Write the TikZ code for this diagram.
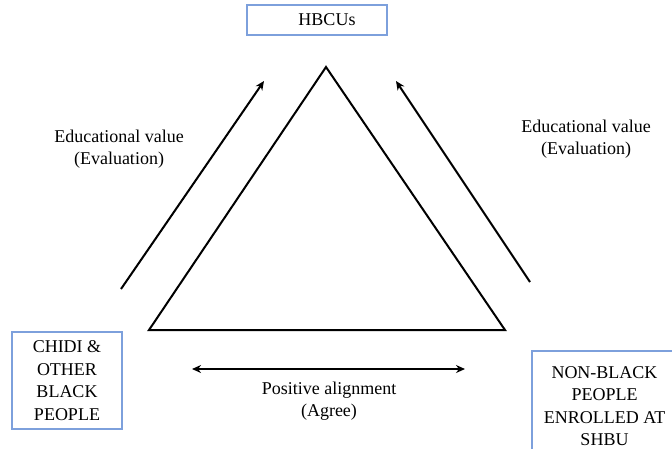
\documentclass[tikz,border=0pt]{standalone}
\usepackage{fontspec}
\setmainfont{Liberation Serif}
\usetikzlibrary{arrows.meta}
\definecolor{boxblue}{RGB}{125,160,220}
\tikzset{
  groupbox/.style={draw=boxblue, line width=1.2pt, align=center, inner sep=0pt,
    font=\fontsize{18}{22.5}\selectfont},
  valuetext/.style={align=center, font=\fontsize{18}{22}\selectfont},
  relarrow/.style={line width=2pt, -{Stealth[length=9pt,width=8pt]}}
}
\begin{document}
\begin{tikzpicture}[x=1pt,y=-1pt]
\useasboundingbox (0,0) rectangle (672,448);
\clip (0,0) rectangle (672,448);
% triangle
\coordinate (apex) at (326,67);
\coordinate (left) at (149,330);
\coordinate (right) at (505,330);
\draw [line width = 2pt, line join=miter] (apex) -- (left) -- (right) -- cycle;
% the three groups
\node[groupbox, minimum width=140, minimum height=30] (hbcu) at (317,20) {\hspace*{20pt}HBCUs};
\node[groupbox, minimum width=110, minimum height=97] (chidi) at (67,380.5) {CHIDI \&\\OTHER\\BLACK\\PEOPLE};
\node[groupbox, minimum width=145, minimum height=110] (nonblack) at (604.5,406) {NON-BLACK\\PEOPLE\\ENROLLED AT\\SHBU};
% arrows
\coordinate (la) at (121,289);
\coordinate (lb) at (264,81);
\coordinate (ra) at (530,282);
\coordinate (rb) at (396,81);
\coordinate (ba) at (192,369);
\coordinate (bb) at (465,369);
\draw [relarrow] (la) -- (lb);
\draw [relarrow] (ra) -- (rb);
\draw [relarrow, {Stealth[length=9pt,width=8pt]}-{Stealth[length=9pt,width=8pt]}] (ba) -- (bb);
\node[valuetext] (leval) at (119,149) {Educational value\\(Evaluation)};
\node[valuetext] (reval) at (586,139) {Educational value\\(Evaluation)};
\node[valuetext] (agree) at (329,401) {Positive alignment\\(Agree)};
\end{tikzpicture}
\end{document}
